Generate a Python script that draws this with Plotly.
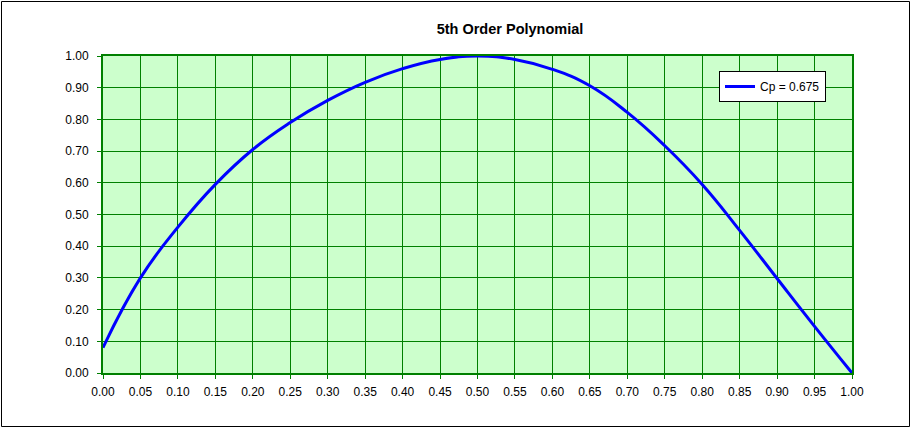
import plotly.graph_objects as go

x_vals = [0.00, 0.05, 0.10, 0.15, 0.20, 0.25, 0.30, 0.35, 0.40, 0.45, 0.50,
          0.55, 0.60, 0.65, 0.70, 0.75, 0.80, 0.85, 0.90, 0.95, 1.00]
cp_vals = [0.08, 0.30, 0.46, 0.595, 0.705, 0.79, 0.86, 0.917, 0.96, 0.989, 1.00,
           0.989, 0.958, 0.906, 0.822, 0.717, 0.595, 0.45, 0.298, 0.147, 0.00]
series_name = "Cp = 0.675"
title_text = "5th Order Polynomial"

FONT = "Arial, 'Liberation Sans', sans-serif"
GREEN = "#008000"

fig = go.Figure()
fig.add_trace(go.Scatter(
    x=x_vals, y=cp_vals, mode="lines", name=series_name,
    line=dict(color="#0000FF", width=3, shape="spline", smoothing=1.3),
    showlegend=True,
))

W, H = 913, 429
L, R, T, B = 103, 61, 56, 56
pw, ph = W - L - R, H - T - B

def px2paper_x(px):
    return (px - L) / pw

def px2paper_y(py):
    return (H - B - py) / ph

fig.update_layout(
    width=W, height=H,
    margin=dict(l=L, r=R, t=T, b=B, pad=0),
    paper_bgcolor="white",
    plot_bgcolor="#CCFFCC",
    font=dict(family=FONT, size=12, color="black"),
    title=dict(text="<b>" + title_text + "</b>", x=px2paper_x(510), xref="paper",
               xanchor="center", y=1 - 29 / H, yanchor="middle", yref="container",
               font=dict(family=FONT, size=14.5, color="black")),
    showlegend=True,
    legend=dict(x=px2paper_x(719), y=px2paper_y(71), xanchor="left", yanchor="top",
                bgcolor="white", bordercolor="black", borderwidth=1,
                font=dict(family=FONT, size=12, color="black"),
                itemwidth=30),
    shapes=[dict(type="rect", xref="paper", yref="paper",
                 x0=px2paper_x(1.5), x1=px2paper_x(909.5),
                 y0=px2paper_y(426.5), y1=px2paper_y(1.5),
                 line=dict(color="black", width=1), fillcolor="rgba(0,0,0,0)",
                 layer="below")],
)

fig.update_xaxes(
    range=[0, 1], dtick=0.05, tick0=0, tickformat=".2f",
    showgrid=True, gridcolor=GREEN, gridwidth=1,
    showline=True, linecolor=GREEN, linewidth=2, mirror=True,
    ticks="outside", ticklen=4, tickcolor=GREEN, tickwidth=1,
    ticklabelstandoff=3, zeroline=False,
)
fig.update_yaxes(
    range=[0, 1], dtick=0.1, tick0=0, tickformat=".2f",
    showgrid=True, gridcolor=GREEN, gridwidth=1,
    showline=True, linecolor=GREEN, linewidth=2, mirror=True,
    ticks="outside", ticklen=4, tickcolor=GREEN, tickwidth=1,
    ticklabelstandoff=6, zeroline=False,
)

fig.write_html("out.html",
               config={"displayModeBar": False},
               post_script="document.body.style.margin='0';document.body.style.overflow='hidden';")
